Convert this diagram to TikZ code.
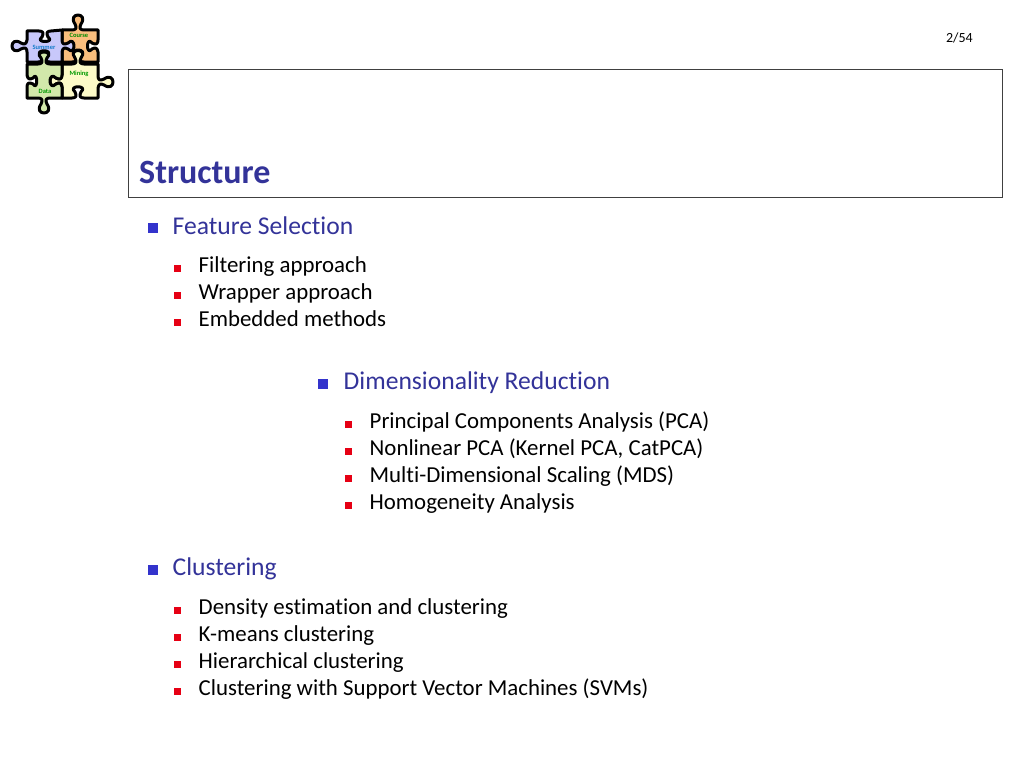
\documentclass[tikz,border=0pt]{standalone}
\usepackage{fontspec}
\setmainfont[Ligatures=NoCommon]{Carlito}
\definecolor{head}{RGB}{51,51,153}
\definecolor{bluebul}{RGB}{51,51,204}
\definecolor{redbul}{RGB}{230,0,20}
\definecolor{pPurple}{RGB}{200,200,250}
\definecolor{pOrange}{RGB}{250,190,125}
\definecolor{pGreen}{RGB}{210,232,170}
\definecolor{pYellow}{RGB}{252,250,200}
\tikzset{
  lvlone/.style={anchor=base west,inner sep=0pt,text=head,font=\fontsize{25.6}{30}\selectfont},
  lvltwo/.style={anchor=base west,inner sep=0pt,text=black,font=\fontsize{22.85}{27}\selectfont},
  bulone/.style={fill=bluebul,draw=none,minimum size=9.5pt,inner sep=0pt,anchor=center},
  bultwo/.style={fill=redbul,draw=none,minimum size=7pt,inner sep=0pt,anchor=center},
  piece/.style={draw=black,line width=3pt,line join=round},
  plabel/.style={inner sep=0pt,font=\bfseries\fontsize{6.5}{7}\selectfont}
}
% horizontal edge knob: centre x, edge y, travel sign, bump sign, peak
\def\hk#1#2#3#4#5{ -- ({#1-6*(#3)},#2) .. controls ({#1-2*(#3)},#2) and ({#1-1*(#3)},{#2+2*(#4)}) .. ({#1-3*(#3)},{#2+6*(#4)}) .. controls ({#1-11*(#3)},{#2+#5*(#4)}) and ({#1+11*(#3)},{#2+#5*(#4)}) .. ({#1+3*(#3)},{#2+6*(#4)}) .. controls ({#1+1*(#3)},{#2+2*(#4)}) and ({#1+2*(#3)},#2) .. ({#1+6*(#3)},#2) }
% vertical edge knob: edge x, centre y, travel sign, bump sign, peak
\def\vk#1#2#3#4#5{ -- (#1,{#2-6*(#3)}) .. controls (#1,{#2-2*(#3)}) and ({#1+2*(#4)},{#2-1*(#3)}) .. ({#1+6*(#4)},{#2-3*(#3)}) .. controls ({#1+#5*(#4)},{#2-11*(#3)}) and ({#1+#5*(#4)},{#2+11*(#3)}) .. ({#1+6*(#4)},{#2+3*(#3)}) .. controls ({#1+2*(#4)},{#2+1*(#3)}) and ({#1+1*(#4)},{#2+2*(#3)}) .. (#1,{#2+6*(#3)}) }
\begin{document}
\begin{tikzpicture}[x=1pt,y=-1pt]
\useasboundingbox (0,0) rectangle (1024,768);
\fill[white] (0,0) rectangle (1024,768);
% puzzle
\draw[piece,fill=pOrange] (62,30) \hk{78}{30}{1}{-1}{18} -- (98,30) \vk{98}{46}{1}{-1}{12} -- (98,62) \hk{78}{62}{-1}{-1}{14} -- (62,62) \vk{62}{46}{-1}{-1}{13} -- cycle;
\draw[piece,fill=pPurple] (27,31) \hk{45}{31}{1}{1}{12} -- (62,30) \vk{62}{46}{1}{1}{14} -- (62,62) \hk{44}{62}{-1}{-1}{13} -- (27,62) \vk{27}{46}{-1}{-1}{18} -- cycle;
\draw[piece,fill=pYellow] (62,64) \hk{78}{64}{1}{-1}{16} -- (98,64) \vk{98}{82}{1}{1}{18} -- (98,98) \hk{78}{98}{-1}{-1}{13} -- (62,98) \vk{62}{81}{-1}{-1}{14} -- cycle;
\draw[piece,fill=pGreen] (27,64) \hk{44}{64}{1}{-1}{14} -- (62,64) \vk{62}{81}{1}{-1}{14} -- (62,98) \hk{44}{98}{-1}{1}{18} -- (27,98) \vk{27}{81}{-1}{1}{11} -- cycle;
\node[plabel,text=cyan!60!blue] (sum) at (44,47) {Summer};
\node[plabel,text=green!55!black] (course) at (79,35) {Course};
\node[plabel,text=green!60!black] (mining) at (79,74) {Mining};
\node[plabel,text=green!60!black] (data) at (45,91) {Data};
% page number
\node[anchor=base east,inner sep=0pt,font=\fontsize{14}{16}\selectfont] (page) at (973,42) {2/54};
% title frame
\node[draw=black!75,line width=1pt,fill=white,inner sep=0pt,anchor=north west,minimum width=873.5pt,minimum height=128pt] (frame) at (128,69) {};
\node[anchor=base west,inner sep=0pt,text=head,font=\bfseries\fontsize{34}{40}\selectfont] (title) at (139,183.5) {Structure};
% items
\node[bulone] (b1) at (153,228) {};
\node[lvlone] (t1) at (172.5,234) {Feature Selection};
\node[bultwo] (b11) at (177,268) {};
\node[lvltwo] (t11) at (198.5,272.5) {Filtering approach};
\node[bultwo] (b12) at (177,295) {};
\node[lvltwo] (t12) at (198.5,299.5) {Wrapper approach};
\node[bultwo] (b13) at (177,322) {};
\node[lvltwo] (t13) at (198.5,326.5) {Embedded methods};
\node[bulone] (b2) at (323,384) {};
\node[lvlone] (t2) at (343.5,389) {Dimensionality Reduction};
\node[bultwo] (b21) at (348,424) {};
\node[lvltwo] (t21) at (369.5,428.5) {Principal Components Analysis (PCA)};
\node[bultwo] (b22) at (348,451) {};
\node[lvltwo] (t22) at (369.5,455.5) {Nonlinear PCA (Kernel PCA, CatPCA)};
\node[bultwo] (b23) at (348,478) {};
\node[lvltwo] (t23) at (369.5,482.5) {Multi-Dimensional Scaling (MDS)};
\node[bultwo] (b24) at (348,505) {};
\node[lvltwo] (t24) at (369.5,509.5) {Homogeneity Analysis};
\node[bulone] (b3) at (153,570) {};
\node[lvlone] (t3) at (172.5,575) {Clustering};
\node[bultwo] (b31) at (177,610) {};
\node[lvltwo] (t31) at (198.5,614.5) {Density estimation and clustering};
\node[bultwo] (b32) at (177,637) {};
\node[lvltwo] (t32) at (198.5,641.5) {K-means clustering};
\node[bultwo] (b33) at (177,664) {};
\node[lvltwo] (t33) at (198.5,668.5) {Hierarchical clustering};
\node[bultwo] (b34) at (177,691) {};
\node[lvltwo] (t34) at (198.5,695.5) {Clustering with Support Vector Machines (SVMs)};
\end{tikzpicture}
\end{document}
